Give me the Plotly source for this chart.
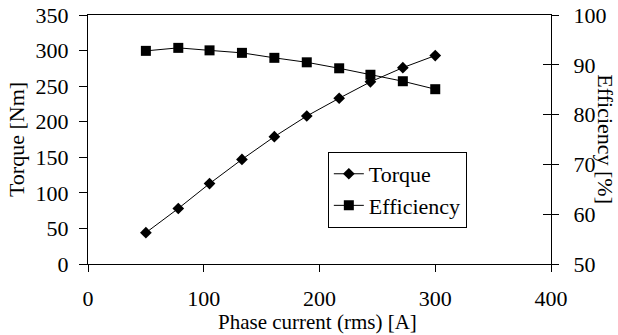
import plotly.graph_objects as go

current = [50, 78, 105, 133, 161, 189, 217, 244, 272, 300]
torque = [44, 78, 113, 147, 179, 208, 233, 256, 276, 293]
efficiency = [92.8, 93.4, 92.9, 92.4, 91.4, 90.5, 89.3, 88.0, 86.7, 85.1]

FAM = "Liberation Serif"
FONT = dict(family=FAM, size=22, color="black")

fig = go.Figure()
fig.add_trace(go.Scatter(x=current, y=torque, name="Torque", mode="lines+markers",
                         line=dict(color="black", width=1),
                         marker=dict(symbol="diamond", size=9, color="black"),
                         yaxis="y"))
fig.add_trace(go.Scatter(x=current, y=efficiency, name="Efficiency", mode="lines+markers",
                         line=dict(color="black", width=1),
                         marker=dict(symbol="square", size=10, color="black"),
                         yaxis="y2"))
# invisible helper trace to carry the inward ticks of the right axis
fig.add_trace(go.Scatter(x=[None], y=[None], yaxis="y3", showlegend=False, hoverinfo="skip"))

fig.update_layout(
    width=618, height=335,
    margin=dict(l=88, r=67, t=15, b=71),
    paper_bgcolor="white", plot_bgcolor="white",
    font=FONT,
    showlegend=True,
    legend=dict(x=0.518, y=0.45, xanchor="left", yanchor="top",
                bgcolor="white", bordercolor="black", borderwidth=1,
                font=FONT, itemwidth=30, tracegroupgap=0),
    xaxis=dict(range=[0, 400], dtick=100, tick0=0, showgrid=False, zeroline=False,
               showline=True, linecolor="black", linewidth=1, mirror=True,
               ticks="outside", ticklen=7, tickcolor="black",
               ticklabelstandoff=8, tickfont=FONT, automargin=False),
    yaxis=dict(range=[0, 350], dtick=50, tick0=0, showgrid=False, zeroline=False,
               showline=True, linecolor="black", linewidth=1,
               ticks="outside", ticklen=8, tickcolor="black",
               ticklabelstandoff=6, tickfont=FONT, automargin=False,
               title=dict(text="Torque [Nm]", standoff=4, font=FONT)),
    yaxis2=dict(range=[50, 100], dtick=10, tick0=50, overlaying="y", side="right",
                anchor="x", showgrid=False, zeroline=False,
                showline=True, linecolor="black", linewidth=1,
                ticks="outside", ticklen=7, tickcolor="black",
                ticklabelstandoff=10, tickfont=FONT, automargin=False),
    yaxis3=dict(range=[50, 100], dtick=10, tick0=50, overlaying="y", side="right",
                anchor="x", showgrid=False, zeroline=False, showline=False,
                ticks="inside", ticklen=8, tickcolor="black", showticklabels=False,
                automargin=False),
    annotations=[
        dict(text="Efficiency [%]", textangle=90, xref="paper", yref="paper",
             x=1.117, y=0.5, xanchor="center", yanchor="middle",
             showarrow=False, font=FONT),
        dict(text="Phase current (rms) [A]", xref="paper", yref="paper",
             x=0.495, y=-0.232, xanchor="center", yanchor="middle",
             showarrow=False, font=dict(family=FAM, size=21, color="black")),
    ],
)

fig.write_html("out.html")
